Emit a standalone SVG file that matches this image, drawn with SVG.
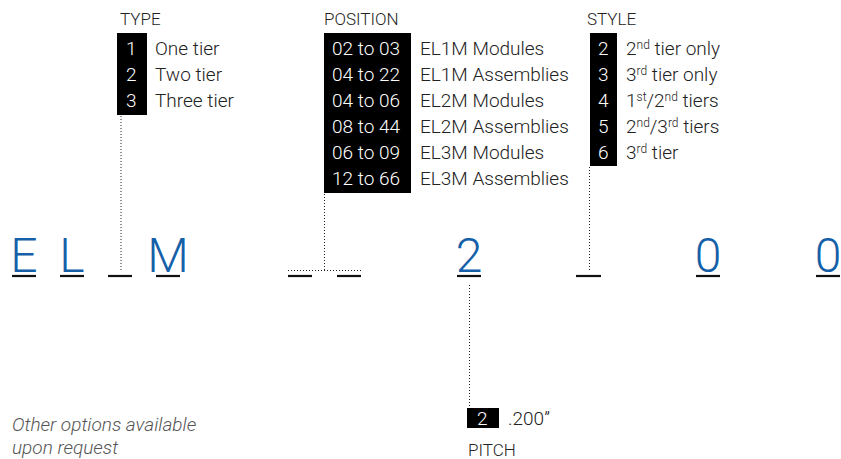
<svg xmlns="http://www.w3.org/2000/svg" width="841" height="459" viewBox="0 0 841 459">
<style>
text{font-family:Roboto,"Liberation Sans",sans-serif;font-weight:300;}
.h{font-size:17px;fill:#222;}
.t{font-size:19px;fill:#222;}
.w{font-size:19px;fill:#fff;}
.big{font-size:48px;fill:#1560a8;text-anchor:middle;}
.u{stroke:#111;stroke-width:2.2;}
.d{stroke:#222;stroke-width:1;stroke-dasharray:1 2;fill:none;}
.box{fill:#000;}
.sup{font-size:12px;}
.note{font-size:19px;fill:#555;font-style:italic;}
</style>
<rect width="841" height="459" fill="#fff"/>
<g id="connectors">
<line class="d" x1="121" y1="116" x2="121" y2="272"/>
<line class="d" x1="324.5" y1="194" x2="324.5" y2="270.5"/>
<line class="d" x1="288" y1="270.5" x2="362" y2="270.5"/>
<line class="d" x1="589.5" y1="167" x2="589.5" y2="272"/>
<line class="d" x1="469.5" y1="285" x2="469.5" y2="408"/>
</g>
<g id="code">
<text class="big" x="24" y="272">E</text>
<text class="big" x="72" y="272">L</text>
<text class="big" x="168" y="272">M</text>
<text class="big" x="469" y="272">2</text>
<text class="big" x="708" y="272">0</text>
<text class="big" x="828" y="272">0</text>
<line class="u" x1="12" y1="276" x2="36" y2="276"/>
<line class="u" x1="60" y1="276" x2="84" y2="276"/>
<line class="u" x1="108" y1="276" x2="132" y2="276"/>
<line class="u" x1="156" y1="276" x2="180" y2="276"/>
<line class="u" x1="288" y1="276" x2="312" y2="276"/>
<line class="u" x1="337" y1="276" x2="361" y2="276"/>
<line class="u" x1="457" y1="276" x2="481" y2="276"/>
<line class="u" x1="576" y1="276" x2="601" y2="276"/>
<line class="u" x1="696" y1="276" x2="720" y2="276"/>
<line class="u" x1="816" y1="276" x2="840" y2="276"/>
</g>
<g id="type">
<text class="h" x="120" y="25">TYPE</text>
<rect class="box" x="117" y="33" width="30" height="82"/>
<text class="w" x="126" y="55">1</text>
<text class="w" x="126" y="81">2</text>
<text class="w" x="126" y="107">3</text>
<text class="t" x="155" y="55">One tier</text>
<text class="t" x="155" y="81">Two tier</text>
<text class="t" x="155" y="107">Three tier</text>
</g>
<g id="position">
<text class="h" x="324" y="25">POSITION</text>
<rect class="box" x="324" y="33" width="87" height="160"/>
<text class="w" x="332" y="55">02 to 03</text>
<text class="w" x="332" y="81">04 to 22</text>
<text class="w" x="332" y="107">04 to 06</text>
<text class="w" x="332" y="133">08 to 44</text>
<text class="w" x="332" y="159">06 to 09</text>
<text class="w" x="332" y="185">12 to 66</text>
<text class="t" x="420" y="55">EL1M Modules</text>
<text class="t" x="420" y="81">EL1M Assemblies</text>
<text class="t" x="420" y="107">EL2M Modules</text>
<text class="t" x="420" y="133">EL2M Assemblies</text>
<text class="t" x="420" y="159">EL3M Modules</text>
<text class="t" x="420" y="185">EL3M Assemblies</text>
</g>
<g id="style">
<text class="h" x="587" y="25">STYLE</text>
<rect class="box" x="590" y="33" width="27" height="133"/>
<text class="w" x="598" y="55">2</text>
<text class="w" x="598" y="81">3</text>
<text class="w" x="598" y="107">4</text>
<text class="w" x="598" y="133">5</text>
<text class="w" x="598" y="159">6</text>
<text class="t" x="626" y="55">2<tspan class="sup" dy="-6">nd</tspan><tspan dy="6"> tier only</tspan></text>
<text class="t" x="626" y="81">3<tspan class="sup" dy="-6">rd</tspan><tspan dy="6"> tier only</tspan></text>
<text class="t" x="626" y="107">1<tspan class="sup" dy="-6">st</tspan><tspan dy="6">/2</tspan><tspan class="sup" dy="-6">nd</tspan><tspan dy="6"> tiers</tspan></text>
<text class="t" x="626" y="133">2<tspan class="sup" dy="-6">nd</tspan><tspan dy="6">/3</tspan><tspan class="sup" dy="-6">rd</tspan><tspan dy="6"> tiers</tspan></text>
<text class="t" x="626" y="159">3<tspan class="sup" dy="-6">rd</tspan><tspan dy="6"> tier</tspan></text>
</g>
<g id="pitch">
<rect class="box" x="467" y="408" width="32" height="20"/>
<text class="w" x="477" y="425">2</text>
<text class="t" x="508" y="425">.200”</text>
<text class="h" x="468" y="456">PITCH</text>
</g>
<g id="note">
<text class="note" x="12" y="431">Other options available</text>
<text class="note" x="12" y="454">upon request</text>
</g>
</svg>
